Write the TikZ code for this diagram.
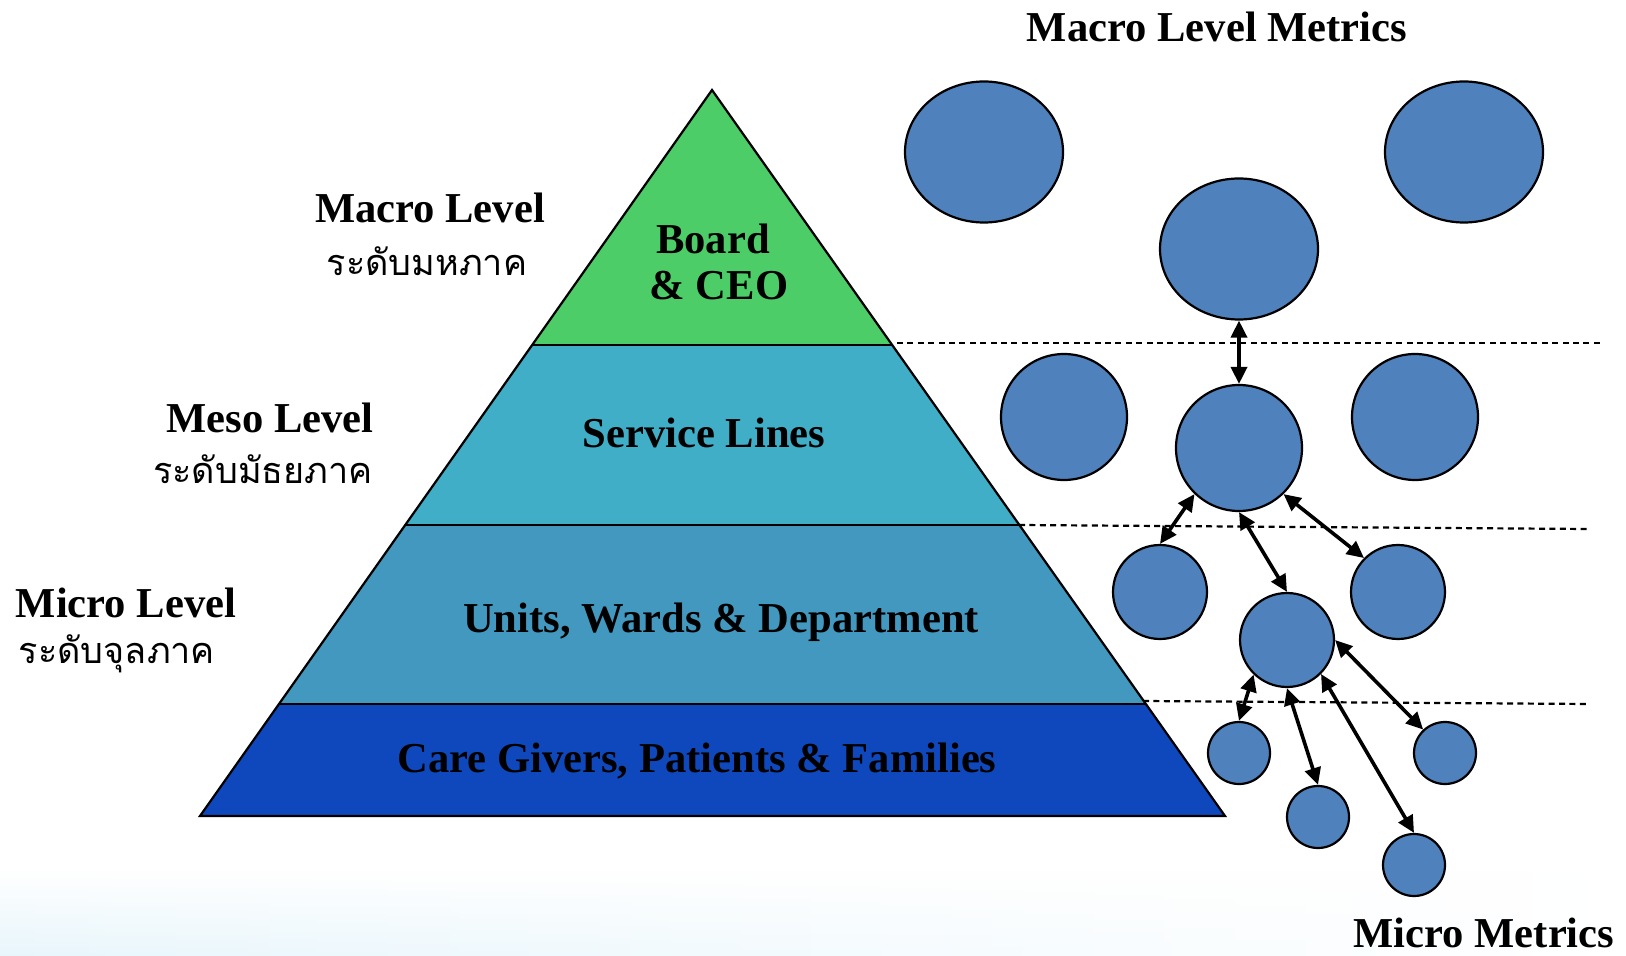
\documentclass[tikz,border=0pt]{standalone}
\usepackage{fontspec}
\setmainfont{Liberation Serif}
\newfontfamily\thai[Script=Thai]{Loma}
\usetikzlibrary{shapes.geometric,arrows.meta,calc,fadings}
\definecolor{gTop}{RGB}{77,205,104}
\definecolor{gSvc}{RGB}{64,174,199}
\definecolor{gUnit}{RGB}{66,152,190}
\definecolor{gCare}{RGB}{15,72,188}
\definecolor{cBlue}{RGB}{79,129,189}
\definecolor{bgc}{RGB}{232,246,252}
\begin{document}
\begin{tikzpicture}[x=0.5pt,y=-0.5pt,
  lbl/.style={font=\bfseries\fontsize{21.3}{25}\selectfont, inner sep=0pt, anchor=base},
  thaitxt/.style={font=\thai\fontsize{18}{22}\selectfont, inner sep=0pt, anchor=base},
  bigm/.style={ellipse, draw=black, line width=1.1pt, fill=cBlue, minimum width=79pt, minimum height=70.5pt, inner sep=0pt},
  midm/.style={circle, draw=black, line width=1.1pt, fill=cBlue, minimum size=63pt, inner sep=0pt},
  smlm/.style={circle, draw=black, line width=1.1pt, fill=cBlue, minimum size=47pt, inner sep=0pt},
  tinym/.style={circle, draw=black, line width=1.1pt, fill=cBlue, minimum size=31pt, inner sep=0pt},
  arr/.style={{Triangle[length=8.5pt,width=8pt]}-{Triangle[length=8.5pt,width=8pt]}, line width=1.8pt},
  sep/.style={dash pattern=on 3pt off 2.2pt, line width=1.1pt}
]
\useasboundingbox (0,0) rectangle (1626,956);
\fill[white] (0,0) rectangle (1626,956);
% faint background at the bottom
\shade[left color=bgc, right color=white, path fading=north] (0,870) rectangle (1626,956);

% pyramid
\coordinate (A) at (712,90);
\coordinate (BL) at (200,816);
\coordinate (BR) at (1225,816);
\coordinate (L1) at ($(A)!0.3512!(BL)$);
\coordinate (R1) at ($(A)!0.3512!(BR)$);
\coordinate (L2) at ($(A)!0.5992!(BL)$);
\coordinate (R2) at ($(A)!0.5992!(BR)$);
\coordinate (L3) at ($(A)!0.8457!(BL)$);
\coordinate (R3) at ($(A)!0.8457!(BR)$);
\fill[gTop] (A) -- (L1) -- (R1) -- cycle;
\fill[gSvc] (L1) -- (R1) -- (R2) -- (L2) -- cycle;
\fill[gUnit] (L2) -- (R2) -- (R3) -- (L3) -- cycle;
\fill[gCare] (L3) -- (R3) -- (BR) -- (BL) -- cycle;
\draw[line width=1.1pt, line join=miter] (A) -- (BL) -- (BR) -- cycle;
\draw[line width=1.1pt] (L1) -- (R1) (L2) -- (R2) (L3) -- (R3);

% pyramid texts
\node[lbl] (board) at (713,254) {Board};
\node[lbl] (ceo) at (719,300) {\& CEO};
\node[lbl] (svc) at (704,448) {Service Lines};
\node[lbl] (units) at (721,632) {Units, Wards \& Department};
\node[lbl] (care) at (697,772) {Care Givers, Patients \& Families};

% level labels
\node[lbl] (macro) at (430,223) {Macro Level};
\node[thaitxt] (macroT) at (427,276) {ระดับมหภาค};
\node[lbl] (meso) at (270,433) {Meso Level};
\node[thaitxt] (mesoT) at (263,483) {ระดับมัธยภาค};
\node[lbl] (micro) at (126,617) {Micro Level};
\node[thaitxt] (microT) at (117,663) {ระดับจุลภาค};

\node[lbl] (mlm) at (1217,42) {Macro Level Metrics};
\node[lbl] (mm) at (1484,947) {Micro Metrics};

% dashed separators
\coordinate (d1a) at (897,343);
\coordinate (d1b) at (1603,343);
\coordinate (d2a) at (1019,525);
\coordinate (d2b) at (1588,529);
\coordinate (d3a) at (1143,701);
\coordinate (d3b) at (1589,704);
\draw[sep] (d1a) -- (d1b);
\draw[sep] (d2a) -- (d2b);
\draw[sep] (d3a) -- (d3b);

% metric bubbles
\node[bigm] (c1) at (984,152) {};
\node[bigm] (c2) at (1464,152) {};
\node[bigm] (c3) at (1239,249) {};
\node[midm] (c4) at (1064,417) {};
\node[midm] (c5) at (1239,448) {};
\node[midm] (c6) at (1415,417) {};
\node[smlm] (c7) at (1160,592) {};
\node[smlm] (c8) at (1398,592) {};
\node[smlm] (c9) at (1287,640) {};
\node[tinym] (c10) at (1239,753) {};
\node[tinym] (c11) at (1445,753) {};
\node[tinym] (c12) at (1318,817) {};
\node[tinym] (c13) at (1414,865) {};

% connectors
\draw[arr] (c3.south) -- (c5.north);
\draw[arr] (c5.226) -- (c7.north);
\draw[arr] (c5.314) -- (c8.135);
\draw[arr] (c5.south) -- (c9.north);
\draw[arr] (c9.226) -- (c10.north);
\draw[arr] (c9.south) -- (c12.north);
\draw[arr] (c9.315) -- (c13.north);
\draw[arr] (c9.east) -- (c11.133);
\end{tikzpicture}
\end{document}
